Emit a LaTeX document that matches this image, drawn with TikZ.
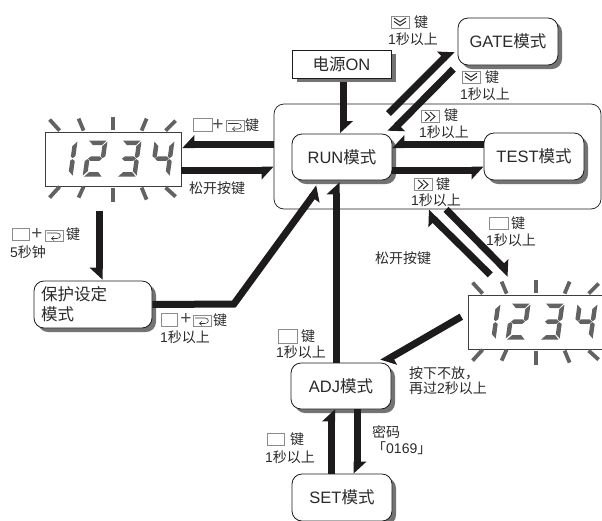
\documentclass[tikz,border=0pt]{standalone}
\usepackage{fontspec}
\setmainfont{Liberation Sans}
\newfontfamily\cj{Noto Sans CJK SC}
\usetikzlibrary{shadows,calc}
\makeatletter
\pgfdeclarearrow{name=HarpL,
  setup code={\pgfarrowssettipend{0pt}\pgfarrowssetlineend{-11pt}\pgfarrowssetbackend{-12pt}\pgfarrowssetvisualbackend{-12pt}
    \pgfarrowshullpoint{0pt}{-3.5pt}\pgfarrowshullpoint{-12pt}{-3.5pt}\pgfarrowshullpoint{-12pt}{9.5pt}},
  drawing code={\pgfpathmoveto{\pgfqpoint{0pt}{-3.5pt}}\pgfpathlineto{\pgfqpoint{-12pt}{9.5pt}}\pgfpathlineto{\pgfqpoint{-12pt}{-3.5pt}}\pgfpathclose\pgfusepathqfill}}
\pgfdeclarearrow{name=HarpR,
  setup code={\pgfarrowssettipend{0pt}\pgfarrowssetlineend{-11pt}\pgfarrowssetbackend{-12pt}\pgfarrowssetvisualbackend{-12pt}
    \pgfarrowshullpoint{0pt}{3.5pt}\pgfarrowshullpoint{-12pt}{3.5pt}\pgfarrowshullpoint{-12pt}{-9.5pt}},
  drawing code={\pgfpathmoveto{\pgfqpoint{0pt}{3.5pt}}\pgfpathlineto{\pgfqpoint{-12pt}{-9.5pt}}\pgfpathlineto{\pgfqpoint{-12pt}{3.5pt}}\pgfpathclose\pgfusepathqfill}}
\makeatother
\definecolor{ink}{HTML}{1E1B1C}
\definecolor{segc}{HTML}{626264}
\definecolor{txt}{HTML}{2A2A2A}
\tikzset{
  basebox/.style={draw=ink,line width=.8pt,fill=white,inner sep=0pt,text=txt,font=\fontsize{16.5}{20}\selectfont},
  mode/.style={basebox,rounded corners=10pt,minimum width=100pt,minimum height=47pt,
    copy shadow={shadow xshift=4pt,shadow yshift=-4pt,draw=none,fill=black!55}},
  powerbox/.style={basebox,minimum width=99pt,minimum height=28pt},
  framebox/.style={draw=ink,line width=.7pt,rounded corners=10pt,minimum width=327pt,minimum height=105pt,inner sep=0pt},
  dispbox/.style={draw=ink!85,line width=.8pt,fill=white,minimum width=136pt,minimum height=54pt,inner sep=0pt},
  conn/.style={draw=ink,line width=7pt,line join=miter},
  L/.style={conn,-{HarpL}},
  R/.style={conn,-{HarpR}},
  lbl/.style={anchor=west,inner sep=0pt,text=txt,font=\fontsize{14}{16}\selectfont},
  ctr/.style={inner sep=0pt,text=txt,font=\fontsize{14}{16}\selectfont},
  plusmark/.style={inner sep=0pt,text=black!70,font=\fontsize{19}{19}\selectfont},
  icon/.style={draw=black!45,line width=.6pt,fill=white},
  iconline/.style={draw=black!80,line width=.7pt},
  ray/.style={draw=segc,line width=3.8pt},
  seg/.style={fill=segc}
}
\newcommand{\sgA}{\fill[seg] (1.5,0)--(19,0)--(15,4.5)--(6,4.5)--cycle;}
\newcommand{\sgB}{\fill[seg] (20,1)--(20,15.5)--(17.5,17.5)--(15.5,16)--(15.5,5.5)--cycle;}
\newcommand{\sgC}{\fill[seg] (20,20.5)--(20,35)--(15.5,30.5)--(15.5,20)--(17.5,18.5)--cycle;}
\newcommand{\sgD}{\fill[seg] (1.5,36)--(19,36)--(15,31.5)--(6,31.5)--cycle;}
\newcommand{\sgE}{\fill[seg] (0,20.5)--(2.5,18.5)--(4.5,20)--(4.5,30.5)--(0,35)--cycle;}
\newcommand{\sgF}{\fill[seg] (0,1)--(4.5,5.5)--(4.5,16)--(2.5,17.5)--(0,15.5)--cycle;}
\newcommand{\sgG}{\fill[seg] (3,18)--(5.5,15.8)--(14.5,15.8)--(17,18)--(14.5,20.2)--(5.5,20.2)--cycle;}
\newcommand{\dispdeco}[1]{%
  \begin{scope}[shift={(#1.north west)}]
    \foreach \a/\b/\c/\d in {5/-12/15/-1,34/-13/39/-1,68/-15/68/-2,97/-1/102/-13,121/-1/131/-11,
      5/66/15/55,34/66/39/55,68/56/68/70,97/56/102/68,121/56/131/65}
      \draw[ray] (\a,\b)--(\c,\d);
    \begin{scope}[shift={(13,9)},xslant=.14]\sgB\sgC\end{scope}
    \begin{scope}[shift={(43,9)},xslant=.14]\sgA\sgB\sgG\sgE\sgD\end{scope}
    \begin{scope}[shift={(77,9)},xslant=.14]\sgA\sgB\sgG\sgC\sgD\end{scope}
    \begin{scope}[shift={(110,9)},xslant=.14]\sgF\sgG\sgB\sgC\end{scope}
  \end{scope}}
\newcommand{\blankkey}[4]{\draw[icon] (#1,#2) rectangle (#3,#4);}
\newcommand{\retkey}[2]{\begin{scope}[shift={(#1,#2)}]
  \draw[icon] (0,0) rectangle (18,11);
  \draw[iconline,line width=.6pt] (2,3)--(12,3) .. controls (16.5,3) and (16.5,8.5) .. (12,8.5)--(7,8.5);
  \draw[iconline,line width=.6pt] (9,6)--(6.5,8.5)--(9,10.5);
  \end{scope}}
\newcommand{\rrkey}[2]{\begin{scope}[shift={(#1,#2)}]
  \draw[icon] (0,0) rectangle (18,12);
  \draw[iconline,line width=1pt] (4,1.5)--(9,6)--(4,10.5) (9,1.5)--(14,6)--(9,10.5);
  \end{scope}}
\newcommand{\ddkey}[2]{\begin{scope}[shift={(#1,#2)}]
  \draw[icon] (0,0) rectangle (18,12);
  \draw[iconline,line width=1pt] (3,2)--(9,6)--(15,2) (3,5.5)--(9,9.5)--(15,5.5);
  \end{scope}}
\begin{document}
\begin{tikzpicture}[x=1pt,y=-1pt]
\useasboundingbox (0,0) rectangle (602,520);
% nodes
\node[framebox] (frame) at (437.5,156.5) {};
\fill[black!55] (297,54) rectangle (396,82);
\node[powerbox] (power) at (341.5,64) {{\cj 电源}ON};
\node[mode] (gate) at (508,41.5) {GATE{\cj 模式}};
\node[mode,minimum height=46pt] (run) at (342,157) {RUN{\cj 模式}};
\node[mode] (test) at (534,156.5) {TEST{\cj 模式}};
\node[mode,minimum height=46pt] (adj) at (341,386) {ADJ{\cj 模式}};
\node[mode] (set) at (342,497.5) {SET{\cj 模式}};
\node[mode,minimum width=118pt,align=left,text width=104pt] (prot) at (93,304.5) {\raisebox{-3pt}{\cj 保护设定}\\\raisebox{-3pt}{\cj 模式}};
\node[dispbox] (disp1) at (113,159) {};
\node[dispbox] (disp2) at (536,322) {};
\dispdeco{disp1}
\dispdeco{disp2}
% connectors
\draw[L] ([shift={(2,4)}]power.south) -- ([shift={(1.5,-.5)}]run.north);
\draw[L] ([shift={(-4,-20)}]run.north east) -- ([shift={(-5.4,-15.6)}]gate.south west);
\draw[L] ([shift={(-4.3,3.7)}]gate.south west) -- ([shift={(-2.5,-.5)}]run.north east);
\draw[R] ([shift={(0,-12)}]frame.west) -- ([shift={(1,-14.5)}]disp1.east);
\draw[R] ([shift={(0,11)}]disp1.east) -- ([shift={(0,13.5)}]frame.west);
\draw[R] ([shift={(0,-12)}]test.west) -- ([shift={(0,-12.5)}]run.east);
\draw[R] ([shift={(0,13)}]run.east) -- ([shift={(0,13.5)}]test.west);
\draw[L] ([shift={(8.5,0)}]frame.south) -- ([shift={(42.4,-20.4)}]disp2.north west);
\draw[L] ([shift={(22.7,-19.7)}]disp2.north west) -- ([shift={(-11,2.7)}]frame.south);
\draw[L] ([shift={(-6.3,-5.3)}]disp2.west) -- ([shift={(-9.4,0)}]adj.north east);
\draw[L] ([shift={(-5,0)}]adj.north) -- ([shift={(-6,2)}]run.south);
\draw[L] ([shift={(-10.5,0)}]set.north) -- ([shift={(-9.5,0)}]adj.south);
\draw[L] ([shift={(16,0)}]adj.south) -- ([shift={(15,0)}]set.north);
\draw[R] ([shift={(-14,25)}]disp1.south) -- ([shift={(6,-1)}]prot.north);
\coordinate (bend) at ([shift={(81.5,-.5)}]prot.east);
\draw[R] (prot.east) -- (bend) -- ([shift={(-23,7)}]run.south);
% labels
\blankkey{193}{118}{212}{131}
\node[plusmark] (p1) at (218,125.5) {+};
\retkey{226}{120.5}
\node[ctr] (k1) at (252,125) {\cj 键};
\node[lbl] (t1) at (189,188) {\cj 松开按键};
\blankkey{12}{228}{29}{240}
\node[plusmark] (p2) at (37,234.5) {+};
\retkey{45}{230}
\node[ctr] (k2) at (73,234) {\cj 键};
\node[lbl] (t2) at (10,252) {5{\cj 秒钟}};
\blankkey{161}{313}{177}{326}
\node[plusmark] (p3) at (186,319.5) {+};
\retkey{193}{315}
\node[ctr] (k3) at (220,320) {\cj 键};
\node[lbl] (t3) at (160,337) {1{\cj 秒以上}};
\ddkey{391}{16}
\node[ctr] (k4) at (421,22) {\cj 键};
\node[lbl] (t4) at (388,39) {1{\cj 秒以上}};
\ddkey{462}{71}
\node[ctr] (k5) at (492,77) {\cj 键};
\node[lbl] (t5) at (460,94) {1{\cj 秒以上}};
\rrkey{421}{110.5}
\node[ctr] (k6) at (451,115) {\cj 键};
\node[lbl] (t6) at (419,132) {1{\cj 秒以上}};
\rrkey{414}{178.5}
\node[ctr] (k7) at (443,184) {\cj 键};
\node[lbl] (t7) at (411,200) {1{\cj 秒以上}};
\blankkey{489}{217}{508}{229}
\node[ctr] (k8) at (518,223) {\cj 键};
\node[lbl] (t8) at (486,240) {1{\cj 秒以上}};
\node[lbl] (t9) at (375,258) {\cj 松开按键};
\node[lbl] (t10) at (409,373) {\cj 按下不放，};
\node[lbl] (t11) at (409,388) {{\cj 再过}2{\cj 秒以上}};
\blankkey{278}{329}{297}{343}
\node[ctr] (k9) at (308,336) {\cj 键};
\node[lbl] (t12) at (276,352) {1{\cj 秒以上}};
\blankkey{267}{433}{284}{445}
\node[ctr] (k10) at (297,439) {\cj 键};
\node[lbl] (t13) at (265,457) {1{\cj 秒以上}};
\node[lbl] (t14) at (372,432) {\cj 密码};
\node[lbl] (t15) at (372,448) {{\cj 「}0169{\cj 」}};
\end{tikzpicture}
\end{document}
